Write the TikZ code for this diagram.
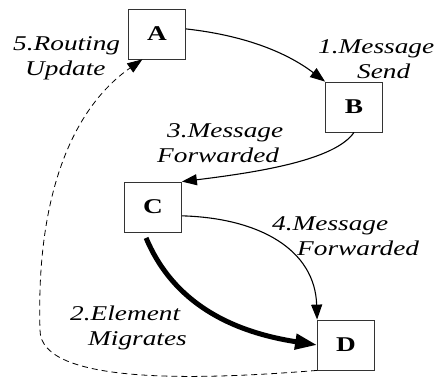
\documentclass[tikz,border=0pt]{standalone}
\usepackage{fontspec}
\setmainfont{Liberation Serif}[FakeStretch=1.3]
\usetikzlibrary{arrows.meta}

\tikzset{
  elem/.style={draw=black!80, line width=0.8pt, minimum width=57pt, minimum height=50pt,
    inner sep=0pt, font=\fontsize{21}{25}\selectfont\bfseries},
  lbl/.style={font=\fontsize{21}{25}\selectfont\itshape, align=left, inner sep=0pt, anchor=north west},
  msg/.style={line width=1.1pt, -{Triangle[length=15pt,width=11pt]}},
}

\begin{document}
\begin{tikzpicture}[x=1pt, y=-1pt]
    \useasboundingbox (0,0) rectangle (437,383);

    \node[elem] (A) at (157, 34) {A};
    \node[elem] (B) at (354, 107) {B};
    \node[elem] (C) at (153, 207) {C};
    \node[elem] (D) at (346, 345) {D};

    \node[lbl] (l5) at (13, 36) {5.Routing\\\hspace*{12pt}Update};
    \node[lbl] (l1) at (318, 39) {1.Message\\\hspace*{39pt}Send};
    \node[lbl] (l3) at (157, 123) {\hspace*{10pt}3.Message\\Forwarded};
    \node[lbl] (l4) at (272, 216) {4.Message\\\hspace*{25pt}Forwarded};
    \node[lbl] (l2) at (70, 306) {2.Element\\\hspace*{18pt}Migrates};

    % edges
    \draw[msg] (A.10) .. controls (250, 36) and (290, 55) .. (B.north west);
    \draw[msg] (B.south) .. controls (335, 160) and (260, 172) .. (C.north east);
    \draw[msg] (C.-17) .. controls (260, 218) and (315, 250) .. (D.north west);
    \draw[line width=5pt, shorten <=6pt, -{Triangle[length=22pt,width=15pt]}]
        (C.-110) .. controls (170, 295) and (220, 330) .. (D.west);
    \draw[line width=0.8pt, dash pattern=on 6pt off 4pt, -{Triangle[length=15pt,width=11pt]}]
        (D.south west) .. controls (200, 380) and (40, 385) .. (40, 330)
        .. controls (36, 200) and (70, 110) .. (A.-120);
\end{tikzpicture}
\end{document}
